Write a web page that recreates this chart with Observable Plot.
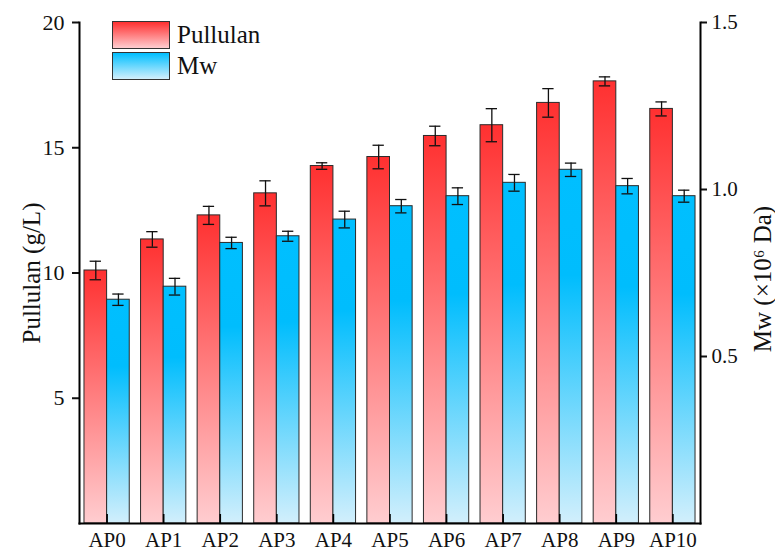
<!DOCTYPE html>
<html>
<head>
<meta charset="utf-8">
<script src="https://cdn.jsdelivr.net/npm/d3@7"></script>
<script src="https://cdn.jsdelivr.net/npm/@observablehq/plot@0.6"></script>
<style>
  body { margin: 0; background: #fff; }
  #chart { position: relative; width: 775px; height: 554px; font-family: "Liberation Serif", Tinos, "Times New Roman", Times, "DejaVu Serif", serif; }
  #chart svg { display: block; }
  .legend { position: absolute; left: 112px; top: 21px; }
  .legend .row { display: flex; align-items: center; height: 28px; margin-bottom: 3px; }
  .legend .sw { width: 58px; height: 28px; box-sizing: border-box; border: 1.2px solid #333; }
  .legend .lab { margin-left: 7px; font-size: 25px; color: #111; line-height: 28px; }
</style>
</head>
<body>
<div id="chart"></div>
<script>
// Strain groups
const cats = ["AP0", "AP1", "AP2", "AP3", "AP4", "AP5", "AP6", "AP7", "AP8", "AP9", "AP10"];
// Pullulan titre (g/L) with standard deviation
const pullulan    = [10.1, 11.34, 12.3, 13.18, 14.27, 14.63, 15.47, 15.9, 16.79, 17.65, 16.55];
const pullulanErr = [0.37, 0.31, 0.36, 0.5, 0.13, 0.47, 0.39, 0.66, 0.57, 0.18, 0.28];
// Molecular weight (×10^6 Da) with standard deviation
const mw    = [0.67, 0.709, 0.84, 0.86, 0.91, 0.95, 0.98, 1.02, 1.059, 1.01, 0.98];
const mwErr = [0.017, 0.025, 0.017, 0.015, 0.025, 0.02, 0.025, 0.025, 0.02, 0.023, 0.018];
// Axis ticks
const pullulanTicks = [5, 10, 15, 20];
const mwTicks = [0.5, 1.0, 1.5];
const series = ["Pullulan", "Mw"];

const pullulanMax = 20, mwMax = 1.5;
const k = pullulanMax / mwMax; // Mw values share the left-axis range

const rows = cats.map((c, i) => ({
  i, cat: c,
  p: pullulan[i], pe: pullulanErr[i],
  m: mw[i] * k, me: mwErr[i] * k
}));

const half = 0.4;   // bar width in group units
const cap = 0.1;    // half width of error-bar caps
const serif = "'Liberation Serif', Tinos, 'Times New Roman', Times, 'DejaVu Serif', serif";

// Vertical gradients for the two series
const gradients = () => {
  const ns = "http://www.w3.org/2000/svg";
  const defs = document.createElementNS(ns, "defs");
  const make = (id, stops) => {
    const g = document.createElementNS(ns, "linearGradient");
    g.setAttribute("id", id);
    g.setAttribute("x1", "0"); g.setAttribute("y1", "0");
    g.setAttribute("x2", "0"); g.setAttribute("y2", "1");
    for (const [o, c] of stops) {
      const s = document.createElementNS(ns, "stop");
      s.setAttribute("offset", o);
      s.setAttribute("stop-color", c);
      g.appendChild(s);
    }
    defs.appendChild(g);
  };
  make("gradPullulan", [[0, "#ff3030"], [1, "#ffcdd0"]]);
  make("gradMw", [[0, "#00bfff"], [0.3, "#00bdfd"], [1, "#d2effc"]]);
  return defs;
};

const font = { fontSize: 21, fontFamily: serif };

const plot = Plot.plot({
  width: 775,
  height: 554,
  marginLeft: 79,
  marginRight: 75,
  marginTop: 22,
  marginBottom: 31,
  style: { fontFamily: serif, color: "#111", background: "transparent", overflow: "visible" },
  x: { type: "linear", domain: [-0.488, cats.length - 1 + 0.488] },
  y: { domain: [0, pullulanMax] },
  marks: [
    gradients,
    // Pullulan bars (left half of each group)
    Plot.rectY(rows, { x1: d => d.i - half, x2: d => d.i, y1: 0, y2: "p", fill: "url(#gradPullulan)", stroke: "#2b2b2b", strokeWidth: 1 }),
    // Mw bars (right half of each group)
    Plot.rectY(rows, { x1: d => d.i, x2: d => d.i + half, y1: 0, y2: "m", fill: "url(#gradMw)", stroke: "#2b2b2b", strokeWidth: 1 }),
    // Error bars, Pullulan
    Plot.ruleX(rows, { x: d => d.i - half / 2, y1: d => d.p - d.pe, y2: d => d.p + d.pe, stroke: "#111", strokeWidth: 1.3 }),
    Plot.ruleY(rows, { x1: d => d.i - half / 2 - cap, x2: d => d.i - half / 2 + cap, y: d => d.p + d.pe, stroke: "#111", strokeWidth: 1.3 }),
    Plot.ruleY(rows, { x1: d => d.i - half / 2 - cap, x2: d => d.i - half / 2 + cap, y: d => d.p - d.pe, stroke: "#111", strokeWidth: 1.3 }),
    // Error bars, Mw
    Plot.ruleX(rows, { x: d => d.i + half / 2, y1: d => d.m - d.me, y2: d => d.m + d.me, stroke: "#111", strokeWidth: 1.3 }),
    Plot.ruleY(rows, { x1: d => d.i + half / 2 - cap, x2: d => d.i + half / 2 + cap, y: d => d.m + d.me, stroke: "#111", strokeWidth: 1.3 }),
    Plot.ruleY(rows, { x1: d => d.i + half / 2 - cap, x2: d => d.i + half / 2 + cap, y: d => d.m - d.me, stroke: "#111", strokeWidth: 1.3 }),
    // Inner ticks at group centres
    Plot.ruleX(rows, { x: "i", y1: 0, y2: 0.36, stroke: "#000", strokeWidth: 1.6 }),
    // Axes
    Plot.axisX({ ticks: cats.map((c, i) => i), tickFormat: i => cats[i], tickSize: 0, tickPadding: 9, label: null, ...font }),
    Plot.axisY({ anchor: "left", ticks: pullulanTicks, tickSize: 7, tickPadding: 8, strokeWidth: 2, label: null, ...font, fontSize: 22 }),
    Plot.axisY({ anchor: "right", ticks: mwTicks.map(v => v * k), tickFormat: v => (v / k).toFixed(1), tickSize: 6, tickPadding: 5, strokeWidth: 2, label: null, ...font }),
    Plot.frame({ anchor: "left", stroke: "#000", strokeWidth: 2 }),
    Plot.frame({ anchor: "right", stroke: "#000", strokeWidth: 2 }),
    Plot.frame({ anchor: "bottom", stroke: "#000", strokeWidth: 2 }),
    // Axis titles
    Plot.text(["Pullulan (g/L)"], { frameAnchor: "left", textAnchor: "middle", dx: -48, rotate: -90, fontSize: 25, fontFamily: serif, fill: "#111" }),
    Plot.text(["Mw (×10⁶ Da)"], { frameAnchor: "right", textAnchor: "middle", dx: 62, dy: 6, rotate: -90, fontSize: 25, fontFamily: serif, fill: "#111" })
  ]
});

const chart = document.getElementById("chart");
chart.appendChild(plot);

// Legend drawn over the plot area
const legend = document.createElement("div");
legend.className = "legend";
const swatches = {
  Pullulan: "linear-gradient(to bottom, #ff3030, #ffcdd0)",
  Mw: "linear-gradient(to bottom, #00bfff, #d2effc)"
};
for (const s of series) {
  const row = document.createElement("div");
  row.className = "row";
  const sw = document.createElement("div");
  sw.className = "sw";
  sw.style.background = swatches[s];
  const lab = document.createElement("span");
  lab.className = "lab";
  lab.textContent = s;
  row.appendChild(sw);
  row.appendChild(lab);
  legend.appendChild(row);
}
chart.appendChild(legend);
</script>
</body>
</html>
